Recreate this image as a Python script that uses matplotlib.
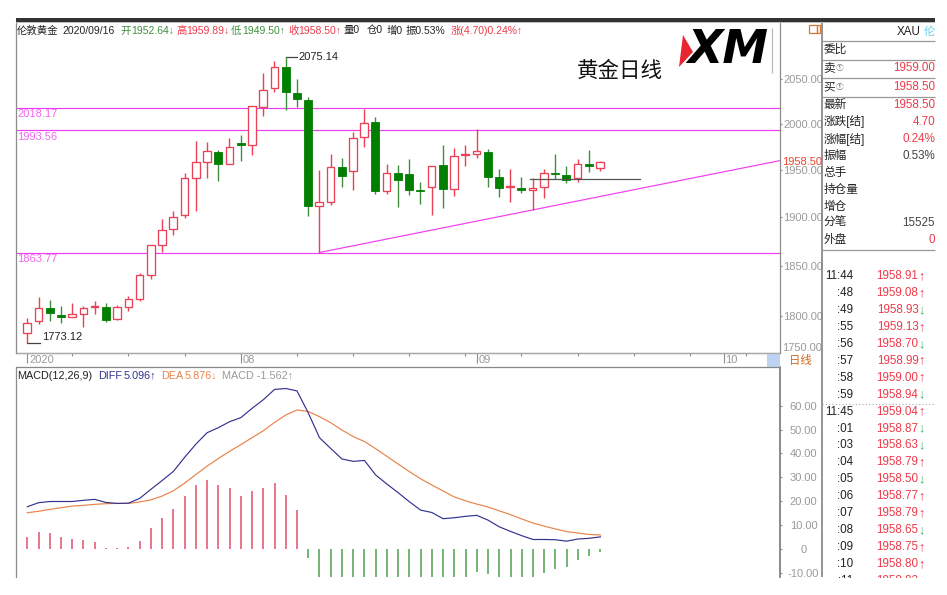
import matplotlib
matplotlib.use("Agg")
import matplotlib.pyplot as plt
from matplotlib.patches import Rectangle, Polygon
from matplotlib.ticker import NullLocator, FixedLocator, FixedFormatter

plt.rcParams['font.family'] = ['Liberation Sans', 'Noto Sans CJK SC', 'DejaVu Sans']
plt.rcParams['axes.unicode_minus'] = False

# ---------- data ----------
highs = [1797.7,1818.7,1816,1810.3,1813.3,1810,1815.3,1812.7,1811,1820.3,1843.3,1871.3,1898.5,1907.2,1946.6,1981.9,1980.8,1971.2,1984.5,1988.4,2019.7,2056.4,2070.3,2075.14,2050,2030.3,1950.1,1967.1,1962.8,1991,2016.3,2007.4,1956.3,1955.5,1962.4,1937.8,1954.4,1976.9,1974,1976.9,1994.2,1973,1951.2,1950.9,1942.4,1941.3,1951.2,1967.1,1954.8,1962.4,1972.1,1959.89]
lows = [1773.12,1791.9,1794.8,1793.4,1798.7,1789.5,1802,1794.1,1796.1,1805.3,1815.3,1837.3,1864.4,1881.9,1899.2,1906.5,1941.3,1938.8,1956.3,1960.2,1966.4,2009.2,2035.2,2015.9,2019.2,1901.9,1863.77,1912.9,1932.5,1929,1975.4,1924.8,1924.5,1911.4,1923.4,1914.2,1902.6,1910,1923,1954.4,1963.1,1932.5,1921.9,1916.3,1925.5,1907.9,1920.2,1940.9,1936.7,1937.1,1948,1949.5]
opens = [1783,1795.1,1808.3,1801.3,1798.7,1802.3,1809,1809,1796.8,1809.3,1817.3,1841.3,1871.6,1887.8,1902.6,1941.3,1958.4,1969.7,1956.3,1979.7,1976.9,2019.2,2039.7,2063.2,2034.8,2026.7,1911.8,1916.7,1953,1949.4,1985.6,2002.2,1928.3,1946.6,1945.9,1928.6,1932.5,1955.2,1930.4,1966,1967.4,1969.7,1942.4,1931.9,1931.1,1929.3,1932.5,1947,1944.8,1941.3,1956.6,1952.64]
closes = [1793.4,1808.3,1803.3,1799,1802.3,1808.3,1810.3,1796.4,1809,1817.3,1840.7,1871.3,1886.8,1900.2,1942,1958.4,1970.4,1956.9,1974.7,1976.9,2019.7,2038.1,2063.2,2035.2,2027.8,1912.1,1916,1953,1944.1,1984.8,2001.4,1928.3,1946.6,1939.6,1929,1928,1954.4,1930.4,1965.3,1967.4,1970.4,1943,1930.8,1932.9,1928.7,1931.4,1946.6,1946.3,1939.6,1956.3,1954.8,1958.5]

diff = [17.7,19.4,19.9,19.9,19.9,20.4,20.8,19.5,19.1,19.2,21.2,25,28.7,32.5,38.4,43.9,48.7,50.8,53.3,55,58.9,62.5,66.8,67.2,66.2,57,46.6,42.1,37.7,36.7,37.1,31,27.2,23.6,19.8,16.3,15.3,12.7,13.1,13.7,14.1,12.1,9.3,7.4,5.6,4.0,4.0,3.9,3.3,4.2,4.5,5.1]
dea = [15.2,15.8,16.6,17.3,18,18.3,18.7,19,19.1,19.1,19.7,20.6,22.2,24.4,27.6,31.2,34.7,37.9,40.9,43.7,46.6,49.5,53,56.1,58.2,57.6,55.4,52.9,49.8,47.1,45,42,38.8,35.6,32.4,29.4,26.8,24.3,21.8,20.2,18.8,17.6,16,14.4,12.6,10.9,9.6,8.4,7.3,6.7,6.1,5.9]
hist = [5.2,7.3,6.7,5.0,4.0,3.8,3.1,0.6,0.4,0.7,3.5,8.8,13.1,16.6,22.3,26.6,28.7,26.6,25.4,22.3,24.4,25.5,27.6,22.7,16.3,-3.9,-17.6,-21.6,-24.2,-20.8,-15.8,-22,-23.6,-24,-25.2,-26.2,-23,-23.2,-17.4,-13,-9.5,-10.6,-13.4,-14,-14,-13.8,-10.2,-8.5,-7.4,-4.6,-2.9,-1.1]

levels = [2018.17, 1993.56, 1863.77]
trend_x = [26, 67]
trend_y = [1863.77, 1960.2]
support_x = [44.76, 54.6]
support_y = [1941, 1941]
price_ticks = [1800, 1850, 1900, 1950, 2000, 2050]
macd_ticks = [-10, 0, 10, 20, 30, 40, 50, 60]
macd_labels = ['-10.00', '0', '10.00', '20.00', '30.00', '40.00', '50.00', '60.00']
month_ticks = [0, 19, 40, 62]
month_labels = ['2020', '08', '09', '10']
week_ticks = [4, 9, 14, 24, 29, 34, 39, 44, 49, 54, 59, 64]

quote_rows = [('卖', '1959.00'), ('买', '1958.50'), ('最新', '1958.50'), ('涨跌[结]', '4.70'),
              ('涨幅[结]', '0.24%'), ('振幅', '0.53%'), ('总手', ''), ('持仓量', ''), ('增仓', ''),
              ('分笔', '15525'), ('外盘', '0')]
tick_times = ['11:44', ':48', ':49', ':55', ':56', ':57', ':58', ':59', '11:45', ':01', ':03',
              ':04', ':05', ':06', ':07', ':08', ':09', ':10', ':11']
tick_prices = ['1958.91', '1959.08', '1958.93', '1959.13', '1958.70', '1958.99', '1959.00', '1958.94',
               '1959.04', '1958.87', '1958.63', '1958.79', '1958.50', '1958.77', '1958.79', '1958.65',
               '1958.75', '1958.80', '1958.82']
tick_arrows = ['↑', '↑', '↓', '↑', '↓', '↑', '↑', '↓', '↑', '↓', '↓', '↑', '↓', '↑', '↑', '↓', '↑', '↑', '↓']

# ---------- style ----------
W, H = 947, 595
RED = '#ea4156'
GREEN = '#007f00'
WICKG = '#3f8f3f'
MAG = '#f03cf0'
GRID = '#8c8c8c'
TXT = '#9a9a9a'
FS = 8.0

def px_axes(x0, y0, x1, y1):
    return [x0 / W, 1 - y1 / H, (x1 - x0) / W, (y1 - y0) / H]

fig = plt.figure(figsize=(W / 100, H / 100), dpi=100, facecolor='white')

x_to_idx = (-1.006, 66.98)

# ---------- main panel ----------
ax = fig.add_axes(px_axes(16, 23, 779.5, 353))
ax.set_yscale('log')
ax.set_xlim(*x_to_idx)
ax.set_ylim(1763.8, 2114)
ax.spines['top'].set_visible(False)
for s in ['left', 'right', 'bottom']:
    ax.spines[s].set_color(GRID)
    ax.spines[s].set_linewidth(0.9)

for lv in levels:
    ax.axhline(lv, color=MAG, lw=0.85, zorder=1)
ax.plot(trend_x, trend_y, color=MAG, lw=0.85, zorder=1)

for i in range(len(opens)):
    o, h, l, c = opens[i], highs[i], lows[i], closes[i]
    up = c >= o
    ax.vlines(i, l, h, color=RED if up else WICKG, lw=1.0, zorder=3)
    lo, hi = min(o, c), max(o, c)
    if up:
        ax.bar(i, hi - lo, bottom=lo, width=0.68, facecolor='white', edgecolor=RED, lw=0.95, zorder=4)
    else:
        ax.bar(i, hi - lo, bottom=lo, width=0.72, facecolor=GREEN, edgecolor=GREEN, lw=0.6, zorder=4)

ax.plot(support_x, support_y, color='#555555', lw=0.9, zorder=5)
ax.plot([23, 24], [highs[23], highs[23]], color='#444444', lw=0.9, zorder=2)
ax.annotate('2075.14', xy=(24, highs[23]), xytext=(1.5, 0), textcoords='offset points',
            fontsize=FS, color='#222222', va='center', ha='left')
ax.plot([0, 1.13], [lows[0], lows[0]], color='#444444', lw=0.9, zorder=2)
ax.annotate('1773.12', xy=(1.3, lows[0]), xytext=(0, 4.5), textcoords='offset points',
            fontsize=FS, color='#222222', va='center', ha='left')
for lv, dy in zip(levels, [-4.6, -5, -5]):
    ax.annotate(f'{lv:.2f}', xy=(0, lv), xycoords=('axes fraction', 'data'), xytext=(0.8, dy),
                textcoords='offset points', fontsize=FS, color='#f266f2', va='center', ha='left')

ax.yaxis.tick_right()
ax.yaxis.set_major_locator(FixedLocator(price_ticks))
ax.yaxis.set_major_formatter(FixedFormatter([f'{p}.00' for p in price_ticks]))
ax.yaxis.set_minor_locator(NullLocator())
ax.tick_params(axis='y', which='major', length=1.5, width=0.8, color=GRID, pad=1.0,
               labelsize=FS, labelcolor=TXT)
ax.annotate(f'{closes[-1]:.2f}', xy=(1, closes[-1]), xycoords=('axes fraction', 'data'),
            xytext=(2.0, 0), textcoords='offset points', fontsize=FS, color='#e8452f',
            va='center', ha='left', annotation_clip=False, zorder=9)

ax.xaxis.set_major_locator(FixedLocator(month_ticks))
ax.xaxis.set_major_formatter(FixedFormatter([''] * len(month_ticks)))
ax.xaxis.set_minor_locator(FixedLocator(week_ticks))
ax.tick_params(axis='x', which='major', direction='out', length=7.5, width=0.8, color=GRID)
ax.tick_params(axis='x', which='minor', direction='out', length=2, width=0.8, color=GRID)
for m, lab in zip(month_ticks, month_labels):
    ax.annotate(lab, xy=(m, 0), xycoords=('data', 'axes fraction'), xytext=(1.3, -5.3),
                textcoords='offset points', fontsize=FS, color=TXT, va='center', ha='left',
                annotation_clip=False)

# ---------- MACD panel ----------
am = fig.add_axes(px_axes(16, 367, 780, 577))
am.set_xlim(*x_to_idx)
am.set_ylim(-11.7, 76.2)
for s in ['top', 'bottom']:
    am.spines[s].set_visible(False)
am.spines['left'].set_color(GRID)
am.spines['left'].set_linewidth(0.9)
am.spines['right'].set_color('#777777')
am.spines['right'].set_linewidth(1.2)
am.set_xticks([])
xs = list(range(len(hist)))
am.vlines([x for x, v in zip(xs, hist) if v >= 0], 0, [v for v in hist if v >= 0],
          color='#e2506a', lw=1.1)
am.vlines([x for x, v in zip(xs, hist) if v < 0], 0, [v for v in hist if v < 0],
          color='#4f9f4f', lw=1.1)
am.plot(xs, dea, color='#e8834a', lw=0.85)
am.plot(xs, diff, color='#33338f', lw=0.85)
am.yaxis.tick_right()
am.set_yticks(macd_ticks)
am.set_yticklabels(macd_labels)
am.tick_params(axis='y', length=1.5, width=0.8, color=GRID, pad=15.5, labelsize=FS, labelcolor=TXT)
for t in am.get_yticklabels():
    t.set_ha('center')

# ---------- overlay in pixels ----------
ov = fig.add_axes([0, 0, 1, 1], zorder=10)
ov.set_xlim(0, W)
ov.set_ylim(H, 0)
ov.axis('off')
ov.patch.set_alpha(0)

def T(x, y, s, color='#222222', size=FS, ha='left', **kw):
    ov.text(x, y, s, color=color, fontsize=size, ha=ha, va='center', **kw)

def L(x0, y0, x1, y1, color=GRID, lw=0.9, **kw):
    ov.plot([x0, x1], [y0, y1], color=color, lw=lw, solid_capstyle='butt', **kw)

ov.add_patch(Rectangle((16, 18), 919, 3.8, color='#333333', lw=0))
ov.add_patch(Rectangle((16, 21.8), 919, 1.6, color='#bdbdbd', lw=0))

HY = 30.5
GC = '#3f8f3f'
RC = '#ee3a4a'
for x, s, c in [(17, '伦敦黄金', '#222222'), (62, '2020/09/16', '#222222'),
                (120, '开', GC), (131, '1952.64↓', GC),
                (176, '高', RC), (186, '1959.89↓', RC),
                (231, '低', GC), (242, '1949.50↑', GC),
                (288, '收', RC), (298, '1958.50↑', RC),
                (343, '量0', '#222222'), (367, '仓0', '#222222'), (387, '增0', '#222222'),
                (406, '振0.53%', '#222222'), (451, '涨(4.70)0.24%↑', RC)]:
    T(x, HY, s, c, size=7.5)

T(620, 71, '黄金日线', '#111111', size=15.5, ha='center')
ov.add_patch(Polygon([(683, 35), (693, 52), (679, 67)], closed=True, color='#e8262f', lw=0))
ov.text(728, 50.5, 'XM', color='black', fontsize=33, fontweight='bold', style='italic',
        family='DejaVu Sans', ha='center', va='center')
L(772.3, 28, 772.3, 73, color='#bbbbbb')

# date strip
L(16, 353, 780, 353, color='#aaaaaa')
L(16, 367.3, 780, 367.3, color='#888888')
ov.add_patch(Rectangle((767, 353.5), 12.5, 13.5, color='#bcd3f2', lw=0))
T(800, 360.3, '日线', '#d2691e', size=8.2, ha='center')
ov.add_patch(Rectangle((808.5, 24.5), 8, 8.5, fill=False, edgecolor='#d9763a', lw=0.9))
ov.add_patch(Rectangle((816.5, 24.5), 3.5, 8.5, fill=False, edgecolor='#d9763a', lw=0.9))

# MACD header
MY = 375.7
T(17, MY, 'MACD(12,26,9)', '#222222', size=7.8)
T(98, MY, 'DIFF', '#33338f', size=7.8)
T(124, MY, '5.096↑', '#33338f', size=7.8)
T(161, MY, 'DEA', '#e8834a', size=7.8)
T(185, MY, '5.876↓', '#e8834a', size=7.8)
T(222, MY, 'MACD -1.562↑', '#9a9a9a', size=7.8)

T(782, 348, '1750.00', TXT)

# right panel
L(821.7, 23, 821.7, 577, color='#777777', lw=1.1)
T(921, 32, 'XAU', '#222222', size=8.4, ha='right')
T(935, 32, '伦', '#5fd0ee', size=8.2, ha='right')
for y in [41.2, 60, 78.3, 96.7, 250]:
    L(822, y, 935, y, color='#999999')
T(823.5, 50, '委比', size=8.4)
ROWY = [68, 87, 105, 122, 139, 156, 173, 190, 207, 223, 240]
for (lab, val), y in zip(quote_rows, ROWY):
    T(823.5, y, lab, size=8.4)
    if lab in ('卖', '买'):
        T(836, y + 0.5, '①', '#777777', size=5.5)
    if val:
        c = '#444444' if lab in ('振幅', '分笔') else RC
        T(935, y, val, c, size=8.4, ha='right')

for k, (t, p, a) in enumerate(zip(tick_times, tick_prices, tick_arrows)):
    y = 276 + k * 16.95
    T(853, y, t, '#222222', size=8.4, ha='right')
    T(918.5, y, p, RC, size=8.4, ha='right')
    T(918.5, y, a, '#e8354a' if a == '↑' else '#3fae5f', size=9)
L(822, 404, 935, 404, color='#aaaaaa', lw=0.8, ls=(0, (1, 2)))

ov.add_patch(Rectangle((820, 577.5), 127, 18, color='white', lw=0, zorder=20))

fig.savefig('out.png', dpi=100, facecolor='white')
